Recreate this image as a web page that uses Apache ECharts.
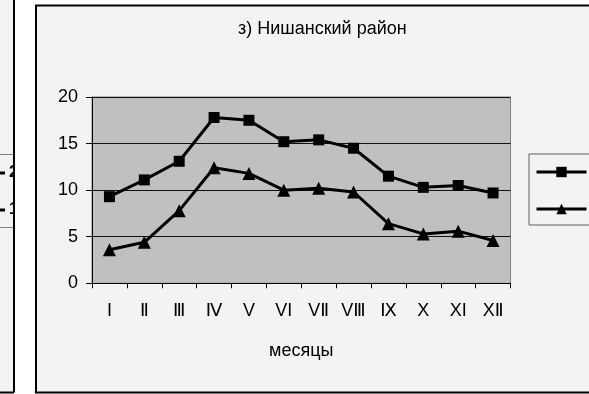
<!DOCTYPE html>
<html>
<head>
<meta charset="utf-8">
<script src="https://cdn.jsdelivr.net/npm/echarts@6/dist/echarts.min.js"></script>
<style>
  html, body { margin: 0; padding: 0; background: #ffffff; }
  #chart { width: 589px; height: 394px; }
</style>
</head>
<body>
<div id="chart"></div>
<script>
// Monthly values for the Nishan district, two series
const months = ['I', 'Ⅱ', 'Ⅲ', 'Ⅳ', 'V', 'VI', 'VⅡ', 'VⅢ', 'Ⅸ', 'X', 'XI', 'XⅡ'];
const series1 = [9.3, 11.1, 13.1, 17.8, 17.5, 15.2, 15.4, 14.5, 11.5, 10.3, 10.5, 9.7];
const series2 = [3.6, 4.4, 7.8, 12.4, 11.8, 10.0, 10.2, 9.8, 6.4, 5.3, 5.6, 4.6];
const seriesNames = ['1', '2'];
const titleText = 'з) Нишанский район';
const xAxisName = 'месяцы';

const FONT = '"Liberation Sans", Arial, "DejaVu Sans", sans-serif';
const FS = 18;

const chart = echarts.init(document.getElementById('chart'), null, { renderer: 'canvas' });

chart.setOption({
  backgroundColor: '#ffffff',
  animation: false,
  textStyle: { fontFamily: FONT, color: '#000' },
  graphic: [
    // neighbouring chart panel at the left edge
    { type: 'rect', z: -10, shape: { x: -10, y: -10, width: 24, height: 402.5 },
      style: { fill: '#f3f3f3', stroke: null } },
    { type: 'line', z: -9, shape: { x1: 0, y1: 154.5, x2: 14, y2: 154.5 },
      style: { stroke: '#808080', lineWidth: 1 } },
    { type: 'line', z: -9, shape: { x1: 0, y1: 227.5, x2: 14, y2: 227.5 },
      style: { stroke: '#808080', lineWidth: 1 } },
    { type: 'line', z: -9, shape: { x1: 0, y1: 173, x2: 5, y2: 173 },
      style: { stroke: '#000', lineWidth: 3 } },
    { type: 'line', z: -9, shape: { x1: 0, y1: 210, x2: 5, y2: 210 },
      style: { stroke: '#000', lineWidth: 3 } },
    { type: 'text', z: -9, x: 9, y: 164,
      style: { text: '2', font: 'bold 17px ' + FONT, fill: '#000' } },
    { type: 'text', z: -9, x: 9, y: 201,
      style: { text: '1', font: 'bold 17px ' + FONT, fill: '#000' } },
    { type: 'rect', z: -8, shape: { x: 14, y: 0, width: 21, height: 394 },
      style: { fill: '#ffffff' } },
    { type: 'line', z: -7, shape: { x1: 14, y1: -2, x2: 14, y2: 392.5 },
      style: { stroke: '#000', lineWidth: 2 } },
    { type: 'line', z: -7, shape: { x1: -2, y1: 392.5, x2: 14, y2: 392.5 },
      style: { stroke: '#000', lineWidth: 2 } },
    // main chart panel
    { type: 'rect', z: -6, shape: { x: 36, y: 5.5, width: 600, height: 387 },
      style: { fill: '#f3f3f3', stroke: '#000', lineWidth: 2 } }
  ],
  title: {
    text: titleText,
    left: 238,
    top: 20,
    padding: 0,
    textStyle: { fontFamily: FONT, fontSize: FS, fontWeight: 'normal', color: '#000' }
  },
  legend: {
    orient: 'vertical',
    left: 529,
    top: 154,
    padding: [9, 6, 7, 6],
    itemWidth: 50,
    itemHeight: 13,
    itemGap: 19,
    borderColor: '#606060',
    borderWidth: 1,
    backgroundColor: '#f3f3f3',
    lineStyle: { width: 3, color: '#000' },
    itemStyle: { color: '#000' },
    textStyle: { fontFamily: FONT, fontSize: FS, lineHeight: 13, color: '#000' },
    data: seriesNames
  },
  grid: {
    left: 92,
    top: 97,
    width: 418.5,
    height: 186.3,
    show: true,
    backgroundColor: '#c0c0c0',
    borderColor: '#808080',
    borderWidth: 1
  },
  xAxis: {
    type: 'category',
    data: months,
    boundaryGap: true,
    name: xAxisName,
    nameLocation: 'middle',
    nameGap: 59,
    nameTextStyle: { fontFamily: FONT, fontSize: FS, color: '#000' },
    axisLine: { show: true, lineStyle: { color: '#000', width: 1 } },
    axisTick: { show: true, length: 5, interval: 0, lineStyle: { color: '#000' } },
    axisLabel: { interval: 0, margin: 19, fontFamily: FONT, fontSize: FS, color: '#000' },
    splitLine: { show: false }
  },
  yAxis: {
    type: 'value',
    min: 0,
    max: 20,
    interval: 5,
    axisLine: { show: true, lineStyle: { color: '#000', width: 1 } },
    axisTick: { show: true, length: 6, lineStyle: { color: '#000' } },
    axisLabel: { margin: 14, fontFamily: FONT, fontSize: FS, color: '#000' },
    splitLine: { show: true, lineStyle: { color: '#111', width: 1 } }
  },
  series: [
    {
      name: seriesNames[0],
      type: 'line',
      data: series1,
      symbol: 'rect',
      symbolSize: 11,
      color: '#000',
      lineStyle: { color: '#000', width: 3 },
      itemStyle: { color: '#000' }
    },
    {
      name: seriesNames[1],
      type: 'line',
      data: series2,
      symbol: 'triangle',
      symbolSize: 13,
      color: '#000',
      lineStyle: { color: '#000', width: 3 },
      itemStyle: { color: '#000' }
    }
  ]
});
</script>
</body>
</html>
